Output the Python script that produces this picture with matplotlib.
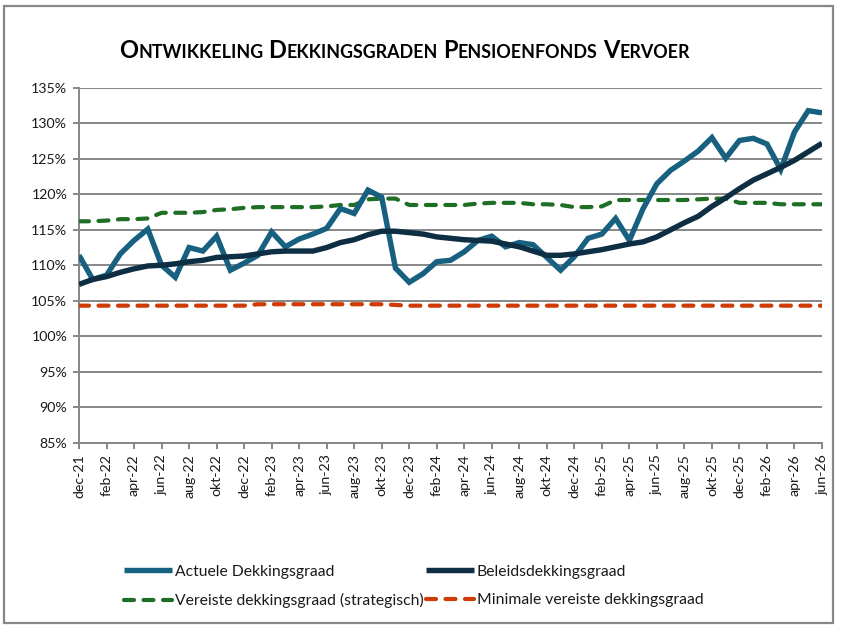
import matplotlib
matplotlib.use("Agg")
import matplotlib.pyplot as plt
from matplotlib.patches import Rectangle
import numpy as np

plt.rcParams['font.family'] = ['Lato', 'DejaVu Sans']
plt.rcParams['lines.scale_dashes'] = False

# ---------------- data ----------------
month_names = ['jan', 'feb', 'mrt', 'apr', 'mei', 'jun', 'jul', 'aug', 'sep', 'okt', 'nov', 'dec']
start_year, start_month = 2021, 12  # dec-21
n_months = 55                        # dec-21 .. jun-26

actuele = [111.4, 108.0, 108.6, 111.6, 113.5, 115.1, 110.0, 108.3, 112.5, 112.0,
           114.1, 109.3, 110.3, 111.4, 114.7, 112.6, 113.7, 114.4, 115.2, 118.0,
           117.3, 120.6, 119.6, 109.6, 107.6, 108.8, 110.5, 110.7, 111.9, 113.5,
           114.1, 112.6, 113.2, 112.9, 111.1, 109.3, 111.2, 113.8, 114.4, 116.6,
           113.5, 118.0, 121.5, 123.4, 124.7, 126.1, 128.0, 125.1, 127.6, 127.9,
           127.1, 123.5, 128.8, 131.8, 131.5]

beleids = [107.3, 108.0, 108.4, 109.0, 109.5, 109.9, 110.0, 110.2, 110.5, 110.7,
           111.1, 111.2, 111.3, 111.6, 111.9, 112.0, 112.0, 112.0, 112.5, 113.2,
           113.6, 114.3, 114.8, 114.8, 114.6, 114.4, 114.0, 113.8, 113.6, 113.5,
           113.4, 113.0, 112.6, 112.0, 111.4, 111.4, 111.6, 111.9, 112.2, 112.6,
           113.0, 113.3, 114.0, 115.0, 116.0, 116.9, 118.3, 119.5, 120.8, 122.0,
           122.9, 123.8, 124.8, 126.0, 127.2]

vereiste = [116.2, 116.2, 116.3, 116.5, 116.5, 116.6, 117.4, 117.4, 117.4, 117.5,
            117.8, 117.9, 118.1, 118.2, 118.2, 118.2, 118.2, 118.2, 118.3, 118.5,
            118.5, 119.3, 119.4, 119.4, 118.5, 118.5, 118.5, 118.5, 118.5, 118.7,
            118.8, 118.8, 118.8, 118.6, 118.6, 118.5, 118.2, 118.2, 118.3, 119.2,
            119.2, 119.2, 119.2, 119.2, 119.2, 119.3, 119.4, 119.4, 118.8, 118.8,
            118.8, 118.6, 118.6, 118.6, 118.6]

minimaal = [104.3, 104.3, 104.3, 104.3, 104.3, 104.3, 104.3, 104.3, 104.3, 104.3,
            104.3, 104.3, 104.3, 104.5, 104.5, 104.5, 104.5, 104.5, 104.5, 104.5,
            104.5, 104.5, 104.5, 104.4, 104.3, 104.3, 104.3, 104.3, 104.3, 104.3,
            104.3, 104.3, 104.3, 104.3, 104.3, 104.3, 104.3, 104.3, 104.3, 104.3,
            104.3, 104.3, 104.3, 104.3, 104.3, 104.3, 104.3, 104.3, 104.3, 104.3,
            104.3, 104.3, 104.3, 104.3, 104.3]

series_names = ['Actuele Dekkingsgraad', 'Beleidsdekkingsgraad',
                'Vereiste dekkingsgraad (strategisch)', 'Minimale vereiste dekkingsgraad']
y_ticks = [85, 90, 95, 100, 105, 110, 115, 120, 125, 130, 135]
title_text = 'Ontwikkeling Dekkingsgraden Pensioenfonds Vervoer'

# month labels
month_labels = []
for i in range(n_months):
    m = (start_month - 1 + i) % 12
    y = start_year + (start_month - 1 + i) // 12
    month_labels.append(f"{month_names[m]}-{y % 100:02d}")

# ---------------- figure ----------------
W, H = 841, 627
fig = plt.figure(figsize=(W / 100, H / 100), dpi=100)
ax = fig.add_axes([79 / W, 1 - 442.5 / H, (822 - 79) / W, (442.5 - 88) / H])

x = np.arange(n_months)
c_blue = '#17607F'
c_navy = '#0D2E43'
c_green = '#1E6E25'
c_red = '#CF3A05'
grid_c = '#878787'

dash = (0, (10.0 * 0.72, 9.5 * 0.72))
l1, = ax.plot(x, actuele, color=c_blue, lw=3.9, solid_joinstyle='miter', solid_capstyle='butt', zorder=4)
l2, = ax.plot(x, beleids, color=c_navy, lw=3.9, solid_joinstyle='round', solid_capstyle='butt', zorder=5)
l3, = ax.plot(x, vereiste, color=c_green, lw=3.0, linestyle=dash, dash_capstyle='round', zorder=3)
l4, = ax.plot(x, minimaal, color=c_red, lw=3.0, linestyle=dash, dash_capstyle='round', zorder=3)

ax.set_xlim(0, n_months - 1)
ax.set_ylim(85, 135)
ax.set_yticks(y_ticks)
ax.set_yticklabels([f"{v}%" for v in y_ticks], fontsize=10.2, color='#1a1a1a')
ax.set_xticks(x[::2])
ax.set_xticklabels(month_labels[::2], rotation=90, fontsize=10.2, color='#1a1a1a')

ax.grid(axis='y', color=grid_c, lw=1.4)
ax.set_axisbelow(True)
for s in ['top', 'right']:
    ax.spines[s].set_visible(False)
for s in ['left', 'bottom']:
    ax.spines[s].set_color(grid_c)
    ax.spines[s].set_linewidth(1.4)
ax.tick_params(axis='both', color=grid_c, width=1.4, length=4.5, direction='out')
ax.tick_params(axis='x', pad=4)
ax.tick_params(axis='y', pad=4)

# legend (columns: col1 = blue, green; col2 = navy, red)
leg = fig.legend([l1, l3, l2, l4],
                 [series_names[0], series_names[2], series_names[1], series_names[3]],
                 ncol=2, loc='center left', bbox_to_anchor=(124 / W, 1 - 586.5 / H),
                 frameon=False, fontsize=11.3, handlelength=3.06, handletextpad=0.2,
                 columnspacing=0.12, labelspacing=0.95, borderpad=0, borderaxespad=0)
for t in leg.get_texts():
    t.set_color('#1a1a1a')

# figure border
fig.patches.append(Rectangle((3.5 / W, 1 - 623 / H), (832.5 - 3.5) / W, (623 - 5.5) / H,
                             transform=fig.transFigure, fill=False, ec=grid_c, lw=1.6))

# title in small caps
fig.canvas.draw()
r = fig.canvas.get_renderer()
big, small = 17.0, 12.9
xpos = 119.0
ybase = 1 - 57.5 / H
for wi, word in enumerate(title_text.split()):
    for chunk, size in [(word[0], big), (word[1:].upper(), small)]:
        t = fig.text(xpos / W, ybase, chunk, fontsize=size, fontweight='bold',
                     va='baseline', ha='left', color='#000000')
        bb = t.get_window_extent(r)
        xpos += bb.width
    xpos += 5.5

fig.savefig('out.png', dpi=100)
